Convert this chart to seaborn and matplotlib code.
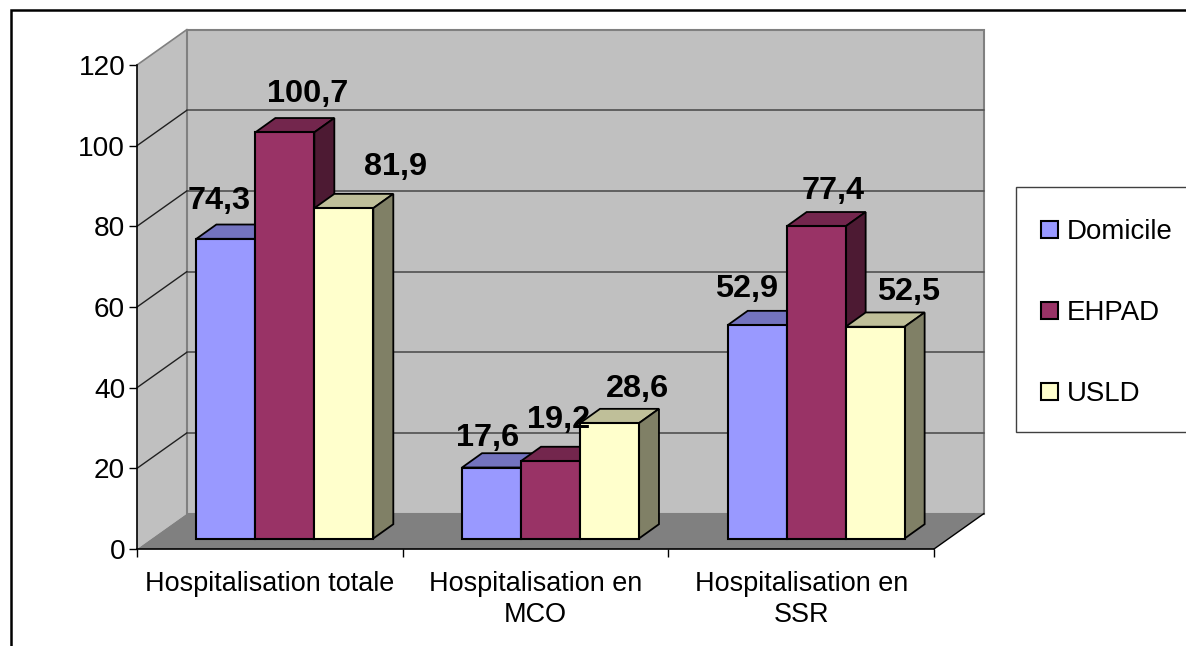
"""Barres groupées façon Excel 3D : faces avant via seaborn, faces de profondeur ajoutées."""

import matplotlib

matplotlib.use("Agg")
import matplotlib.pyplot as plt  # noqa: E402
import pandas as pd  # noqa: E402
import seaborn as sns  # noqa: E402
from matplotlib.patches import Polygon, Rectangle  # noqa: E402

CATEGORIES = ["Hospitalisation totale", "Hospitalisation en\nMCO", "Hospitalisation en\nSSR"]
SERIES = ["Domicile", "EHPAD", "USLD"]
DOMICILE = [74.3, 17.6, 52.9]
EHPAD = [100.7, 19.2, 77.4]
USLD = [81.9, 28.6, 52.5]
YTICKS = [0, 20, 40, 60, 80, 100, 120]

FRONT = {"Domicile": "#9999FF", "EHPAD": "#993366", "USLD": "#FFFFCC"}
TOP = {"Domicile": "#7373BF", "EHPAD": "#73264D", "USLD": "#BFBF99"}
SIDE = {"Domicile": "#4D4D80", "EHPAD": "#4D1A33", "USLD": "#808066"}

W, H = 1186, 646
AX_L, AX_R, AX_T, AX_B = 137, 934, 65, 549
PX_X = (AX_R - AX_L) / 3  # pixels par catégorie
PX_Y = (AX_B - AX_T) / 120  # pixels par unité
WALL_X, WALL_Y = 50 / PX_X, 35.5 / PX_Y
SHIFT_X, SHIFT_Y = 15 / PX_X, 10.5 / PX_Y
BAR_X, BAR_Y = 20 / PX_X, 14.3 / PX_Y
# décalage des étiquettes par rapport au centre / haut de chaque barre (pixels)
LABEL_OFFSET = {
    "Domicile": [(-7, 38), (-4, 30), (-11, 36)],
    "EHPAD": [(23, 38), (8, 41), (17, 35)],
    "USLD": [(52, 41), (28, 34), (33, 35)],
}


def px_font(px):
    return px * 72 / 100


df = pd.DataFrame(
    {
        "categorie": CATEGORIES * 3,
        "serie": [s for s in SERIES for _ in CATEGORIES],
        "valeur": DOMICILE + EHPAD + USLD,
    }
)

sns.set_theme(style="white")
plt.rcParams["font.family"] = ["Liberation Sans", "DejaVu Sans"]

fig = plt.figure(figsize=(W / 100, H / 100), dpi=100)
ax = fig.add_axes([AX_L / W, 1 - AX_B / H, (AX_R - AX_L) / W, (AX_B - AX_T) / H])
sns.barplot(
    data=df,
    x="categorie",
    y="valeur",
    hue="serie",
    hue_order=SERIES,
    order=CATEGORIES,
    palette=FRONT,
    saturation=1,
    width=0.666,
    gap=0,
    edgecolor="black",
    linewidth=1.5,
    legend=True,
    ax=ax,
)
ax.set_xlim(-0.5, 2.5)
ax.set_ylim(0, 120)

# murs et sol
x0, x1 = -0.5, 2.5
ax.add_patch(Polygon([(x0, 0), (x0 + WALL_X, WALL_Y), (x0 + WALL_X, 120 + WALL_Y), (x0, 120)],
                     fc="#C0C0C0", ec="none", zorder=0.5, clip_on=False))
ax.add_patch(Polygon([(x0 + WALL_X, WALL_Y), (x1 + WALL_X, WALL_Y), (x1 + WALL_X, 120 + WALL_Y), (x0 + WALL_X, 120 + WALL_Y)],
                     fc="#C0C0C0", ec="#808080", lw=1.5, zorder=0.6, clip_on=False))
ax.add_patch(Polygon([(x0, 0), (x1, 0), (x1 + WALL_X, WALL_Y), (x0 + WALL_X, WALL_Y)],
                     fc="#808080", ec="none", zorder=0.7, clip_on=False))
ax.plot([x0, x0 + WALL_X], [120, 120 + WALL_Y], color="#808080", lw=1.2, zorder=0.8, clip_on=False)
ax.plot([x1, x1 + WALL_X], [0, WALL_Y], color="black", lw=1, zorder=0.8, clip_on=False)
for v in YTICKS[1:-1]:
    ax.plot([x0 + WALL_X, x1 + WALL_X], [v + WALL_Y] * 2, color="#505050", lw=1.2, zorder=0.8, clip_on=False)
    ax.plot([x0, x0 + WALL_X], [v, v + WALL_Y], color="#202020", lw=1, zorder=0.8, clip_on=False)

# faces de profondeur + étiquettes
for s_idx, (serie, bars) in enumerate(zip(SERIES, ax.containers, strict=True)):
    z = 3 + s_idx
    for c_idx, bar in enumerate(bars):
        bar.set_x(bar.get_x() + SHIFT_X)
        bar.set_y(SHIFT_Y)
        bar.set_zorder(z + 0.5)
        bar.set_clip_on(False)
        xl, xr = bar.get_x(), bar.get_x() + bar.get_width()
        yb, yt = SHIFT_Y, SHIFT_Y + bar.get_height()
        ax.add_patch(Polygon([(xl, yt), (xr, yt), (xr + BAR_X, yt + BAR_Y), (xl + BAR_X, yt + BAR_Y)],
                             fc=TOP[serie], ec="black", lw=1.3, zorder=z, clip_on=False))
        ax.add_patch(Polygon([(xr, yb), (xr + BAR_X, yb + BAR_Y), (xr + BAR_X, yt + BAR_Y), (xr, yt)],
                             fc=SIDE[serie], ec="black", lw=1.3, zorder=z, clip_on=False))
        dx, dy = LABEL_OFFSET[serie][c_idx]
        ax.annotate(
            f"{bar.get_height():.1f}".replace(".", ","),
            ((xl + xr) / 2, yt),
            xytext=(dx, dy),
            textcoords="offset pixels",
            ha="center",
            va="center",
            fontsize=px_font(32.5),
            fontweight="bold",
            color="black",
            zorder=20,
            annotation_clip=False,
        )

# axes
for sp in ("top", "right"):
    ax.spines[sp].set_visible(False)
for sp in ("left", "bottom"):
    ax.spines[sp].set_color("black")
    ax.spines[sp].set_linewidth(1.2)
    ax.spines[sp].set_zorder(2)
ax.set_xlabel("")
ax.set_ylabel("")
ax.set_yticks(YTICKS)
ax.tick_params(axis="y", length=5.5, width=1, color="black", labelsize=px_font(28), labelcolor="black", pad=3, left=True)
ax.set_xticks([0, 1, 2], CATEGORIES)
ax.set_xticks([-0.5, 0.5, 1.5, 2.5], minor=True)
ax.tick_params(axis="x", which="major", length=0, labelsize=px_font(27), labelcolor="black", pad=15.5)
ax.tick_params(axis="x", which="minor", length=6, width=1, color="black", bottom=True)
for lab in ax.get_xticklabels():
    lab.set_linespacing(1.25)
for lab in ax.get_yticklabels():
    lab.set_y(lab.get_position()[1])

# légende : cadre ouvert à droite, comme dans l'original
handles, labels = ax.get_legend_handles_labels()
ax.legend_.remove()
fig.add_artist(Rectangle((1016 / W, 1 - 432 / H), 200 / W, 245 / H, transform=fig.transFigure,
                         fc="white", ec="#404040", lw=1, clip_on=True))
fig.legend(
    handles,
    labels,
    loc="upper left",
    bbox_to_anchor=(1041 / W, 1 - 219 / H),
    frameon=False,
    fontsize=px_font(27.6),
    handlelength=0.6,
    handleheight=0.6,
    handletextpad=0.35,
    labelspacing=2.0,
    borderpad=0,
    borderaxespad=0,
    labelcolor="black",
)

# cadre extérieur
fig.add_artist(Rectangle((11 / W, -0.05), 1.1, 1 - 10 / H + 0.05, transform=fig.transFigure,
                         fc="none", ec="black", lw=1.8))

fig.savefig("out.png", dpi=100)
plt.close(fig)
